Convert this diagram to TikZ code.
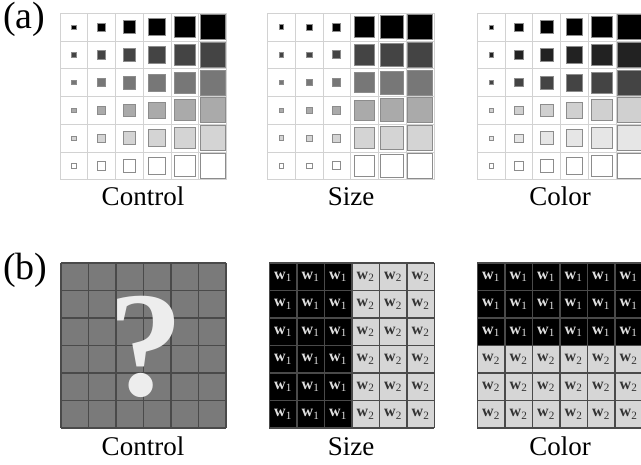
\documentclass[tikz,border=0pt]{standalone}
\usepackage{fontspec}
\setmainfont{Liberation Serif}
\definecolor{ra0}{HTML}{000000}
\definecolor{ra1}{HTML}{444444}
\definecolor{ra2}{HTML}{777777}
\definecolor{ra3}{HTML}{AAAAAA}
\definecolor{ra4}{HTML}{D4D4D4}
\definecolor{ra5}{HTML}{FFFFFF}
\definecolor{rc0}{HTML}{000000}
\definecolor{rc1}{HTML}{222222}
\definecolor{rc2}{HTML}{444444}
\definecolor{rc3}{HTML}{D0D0D0}
\definecolor{rc4}{HTML}{E6E6E6}
\definecolor{rc5}{HTML}{FFFFFF}
\definecolor{sqedge}{HTML}{8C8C8C}
\definecolor{lgridc}{HTML}{D2D2D2}
\definecolor{bctl}{HTML}{7A7A7A}
\definecolor{bline}{HTML}{4A4A4A}
\definecolor{blight}{HTML}{D6D6D6}
\definecolor{wdark}{HTML}{333333}
\definecolor{wlight}{HTML}{E0E0E0}
\tikzset{
  lgrid/.style={draw=lgridc,line width=0.9pt},
  sqbox/.style={draw=sqedge,line width=0.9pt},
  bgridline/.style={draw=bline,line width=1.5pt},
  lbl/.style={font=\fontsize{27}{30}\selectfont,inner sep=0pt,anchor=base},
  panel/.style={font=\fontsize{38}{42}\selectfont,inner sep=0pt,anchor=base west},
  wtxt/.style={font=\fontsize{16}{18}\selectfont,inner sep=0pt},
  qm/.style={font=\fontsize{150}{150}\selectfont\bfseries,text=white!93!black,inner sep=0pt}
}
\def\sizesA{{4.3,8.4,12.6,16.8,21,25}}
\def\sizesB{{4.5,5.8,8,20.5,23,25}}
\newcommand\agridpanel[3]{%
  \foreach \k in {0,...,6}{
    \draw[lgrid] ({#1+\k*27.75},13.3) -- ({#1+\k*27.75},179.8);
    \draw[lgrid] (#1,{13.3+\k*27.75}) -- ({#1+166.5},{13.3+\k*27.75});
  }
  \foreach \i in {0,...,5}{\foreach \j in {0,...,5}{
    \pgfmathsetmacro\s{#2[\i]}
    \pgfmathsetmacro\cx{#1+(\i+0.5)*27.75}
    \pgfmathsetmacro\cy{13.3+(\j+0.5)*27.75}
    \filldraw[sqbox,fill=#3\j] ({\cx-\s/2},{\cy-\s/2}) rectangle ({\cx+\s/2},{\cy+\s/2});
  }}
}
\begin{document}
\begin{tikzpicture}[x=1pt,y=-1pt]
\useasboundingbox (0,0) rectangle (641,465);
\clip (0,0) rectangle (641,465);
\fill[white] (0,0) rectangle (641,465);

% ---------- panel (a)
\node[panel] (pa) at (3,29) {(a)};
\agridpanel{60}{\sizesA}{ra}
\agridpanel{267.5}{\sizesB}{ra}
\agridpanel{477.3}{\sizesA}{rc}
\node[lbl] (la1) at (143,206) {Control};
\node[lbl] (la2) at (351,206) {Size};
\node[lbl] (la3) at (560,206) {Color};

% ---------- panel (b)
\node[panel] (pb) at (3,280) {(b)};
% control
\fill[bctl] (61,263) rectangle (226,428);
\foreach \k in {0,...,6}{
  \draw[bgridline] ({61+\k*27.5},263) -- ({61+\k*27.5},428);
  \draw[bgridline] (61,{263+\k*27.5}) -- (226,{263+\k*27.5});
}
\node[qm] (qmark) at (145.5,346.5) {?};
% size
\foreach \i in {0,...,5}{\foreach \j in {0,...,5}{
  \pgfmathsetmacro\cx{269.3+(\i+0.5)*27.5}
  \pgfmathsetmacro\cy{263+(\j+0.5)*27.5}
  \ifnum\i<3
    \fill[black] ({\cx-13.75},{\cy-13.75}) rectangle ({\cx+13.75},{\cy+13.75});
    \node[wtxt,text=wlight] (s-\i-\j) at (\cx,\cy) {\textbf{w}\textsubscript{1}};
  \else
    \fill[blight] ({\cx-13.75},{\cy-13.75}) rectangle ({\cx+13.75},{\cy+13.75});
    \node[wtxt,text=wdark] (s-\i-\j) at (\cx,\cy) {\textbf{w}\textsubscript{2}};
  \fi
}}
\foreach \k in {0,...,6}{
  \draw[bgridline] ({269.3+\k*27.5},263) -- ({269.3+\k*27.5},428);
  \draw[bgridline] (269.3,{263+\k*27.5}) -- (434.3,{263+\k*27.5});
}
% color
\foreach \i in {0,...,5}{\foreach \j in {0,...,5}{
  \pgfmathsetmacro\cx{477.3+(\i+0.5)*27.5}
  \pgfmathsetmacro\cy{263+(\j+0.5)*27.5}
  \ifnum\j<3
    \fill[black] ({\cx-13.75},{\cy-13.75}) rectangle ({\cx+13.75},{\cy+13.75});
    \node[wtxt,text=wlight] (c-\i-\j) at (\cx,\cy) {\textbf{w}\textsubscript{1}};
  \else
    \fill[blight] ({\cx-13.75},{\cy-13.75}) rectangle ({\cx+13.75},{\cy+13.75});
    \node[wtxt,text=wdark] (c-\i-\j) at (\cx,\cy) {\textbf{w}\textsubscript{2}};
  \fi
}}
\foreach \k in {0,...,6}{
  \draw[bgridline] ({477.3+\k*27.5},263) -- ({477.3+\k*27.5},428);
  \draw[bgridline] (477.3,{263+\k*27.5}) -- (642.3,{263+\k*27.5});
}
\node[lbl] (lb1) at (143,456) {Control};
\node[lbl] (lb2) at (351,456) {Size};
\node[lbl] (lb3) at (560,456) {Color};
\end{tikzpicture}
\end{document}
